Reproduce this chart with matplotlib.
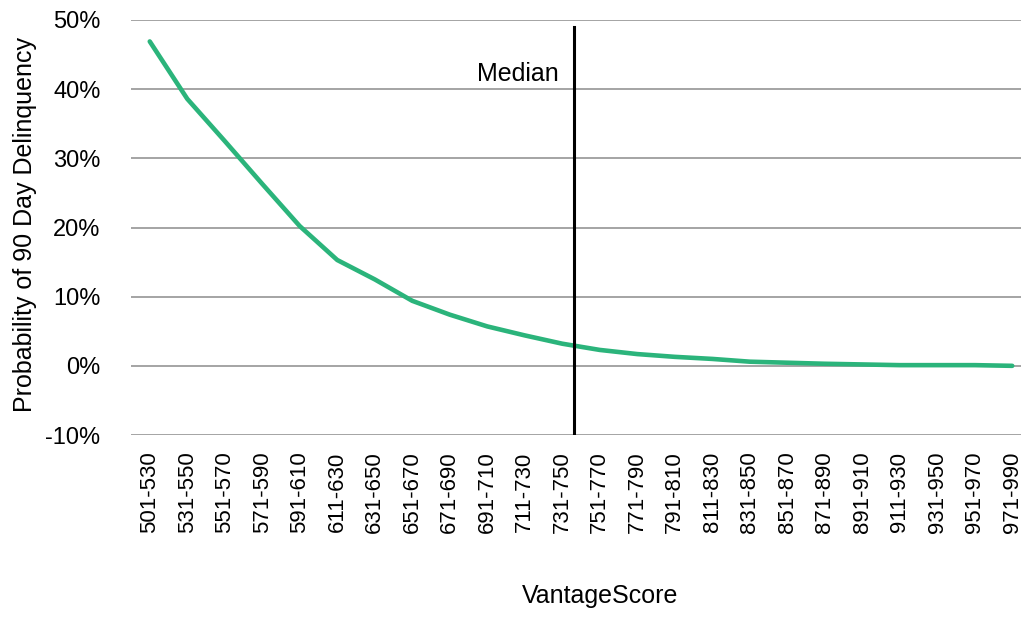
import matplotlib
matplotlib.use("Agg")
import matplotlib.pyplot as plt
from matplotlib.ticker import FuncFormatter

plt.rcParams['font.family'] = ['Liberation Sans', 'DejaVu Sans']
plt.rcParams['axes.unicode_minus'] = False

categories = ["501-530", "531-550", "551-570", "571-590", "591-610", "611-630",
              "631-650", "651-670", "671-690", "691-710", "711-730", "731-750",
              "751-770", "771-790", "791-810", "811-830", "831-850", "851-870",
              "871-890", "891-910", "911-930", "931-950", "951-970", "971-990"]
delinquency = [46.9, 38.6, 32.5, 26.3, 20.2, 15.3, 12.5, 9.4, 7.4, 5.7, 4.4, 3.2,
               2.3, 1.7, 1.3, 1.0, 0.6, 0.45, 0.3, 0.2, 0.1, 0.1, 0.1, 0.0]
median_position = 11.3
median_top = 49.0
y_ticks = [-10, 0, 10, 20, 30, 40, 50]

fig = plt.figure(figsize=(10.21, 6.17), dpi=100)
ax = fig.add_axes([131/1021, (617-435)/617, (1031-131)/1021, 415/617])

x = list(range(len(categories)))
ax.plot(x, delinquency, color='#2bb47b', linewidth=3.3, solid_capstyle='round', zorder=3)
ax.plot([median_position, median_position], [y_ticks[0], median_top], color='black', linewidth=2.2, zorder=4)
ax.text(median_position - 0.4, 42.2, "Median", ha='right', va='center', fontsize=18, color='black')

ax.set_xlim(-0.5, len(categories) - 0.5)
ax.set_ylim(y_ticks[0], y_ticks[-1])
ax.set_yticks(y_ticks)
ax.yaxis.set_major_formatter(FuncFormatter(lambda v, p: f"{int(v)}%"))
ax.set_xticks(x)
ax.set_xticklabels(categories, rotation=90, fontsize=16)
ax.tick_params(axis='y', labelsize=17, length=0, pad=22)
ax.tick_params(axis='x', length=0, pad=12)

ax.grid(axis='y', color='#8c8c8c', linewidth=1.1, zorder=1)
for s in ['top', 'right', 'left', 'bottom']:
    ax.spines[s].set_visible(False)

fig.text(25/1021, 1 - 225/617, "Probability of 90 Day Delinquency", rotation=90,
         ha='center', va='center', fontsize=18)
fig.text(600/1021, 1 - 596/617, "VantageScore", ha='center', va='center', fontsize=18)

fig.savefig("out.png", dpi=100)
